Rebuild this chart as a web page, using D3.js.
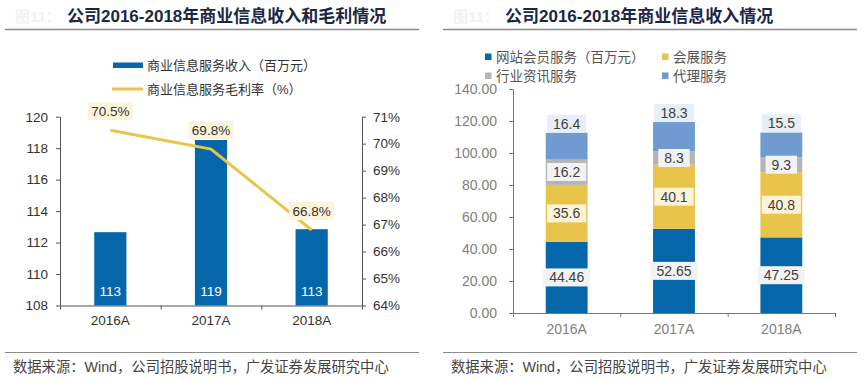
<!DOCTYPE html>
<html><head><meta charset="utf-8">
<script src="https://cdn.jsdelivr.net/npm/d3@7"></script>
<style>
body{margin:0;background:#fff;}
svg{display:block;font-family:"Liberation Sans",Arial,"Noto Sans CJK SC",sans-serif;}
.cjk{font-family:"Liberation Sans",Arial,"Noto Sans CJK SC",sans-serif;}
</style></head>
<body>
<script>
// ---- data ----
const years = ["2016A", "2017A", "2018A"];
const revenue = [112.66, 118.52, 112.85];          // 商业信息服务收入（百万元）
const margin = [70.5, 69.8, 66.8];                 // 商业信息服务毛利率（%）
const leftTicks = [108, 110, 112, 114, 116, 118, 120];
const rightTicks = [64, 65, 66, 67, 68, 69, 70, 71];

const website = [44.46, 52.65, 47.25];             // 网站会员服务
const exhibition = [35.6, 40.1, 40.8];             // 会展服务
const infoSvc = [16.2, 8.3, 9.3];                  // 行业资讯服务
const agency = [16.4, 18.3, 15.5];                 // 代理服务
const stackTicks = [0, 20, 40, 60, 80, 100, 120, 140];

const titleL = "公司2016-2018年商业信息收入和毛利情况";
const titleR = "公司2016-2018年商业信息收入情况";
const legendL = ["商业信息服务收入（百万元）", "商业信息服务毛利率（%）"];
const seriesNames = ["网站会员服务（百万元）", "会展服务", "行业资讯服务", "代理服务"];
const sourceText = "数据来源：Wind，公司招股说明书，广发证券发展研究中心";

const W = 864, H = 381;
const svg = d3.select("body").append("svg").attr("width", W).attr("height", H);

// ---- common frame ----
function frame(x0, x1, titleX, title) {
  svg.append("text").attr("x", titleX - 52).attr("y", 22).attr("fill", "#f1f1f1")
    .attr("font-size", 15).attr("font-weight", "bold").text("图11：");
  svg.append("text").attr("x", titleX).attr("y", 22).attr("fill", "#1b2744")
    .attr("font-size", 17).attr("font-weight", "bold").text(title);
  svg.append("line").attr("x1", x0).attr("x2", x1).attr("y1", 29.5).attr("y2", 29.5)
    .attr("stroke", "#8a8a8a").attr("stroke-width", 1.5);
  svg.append("line").attr("x1", x0).attr("x2", x1).attr("y1", 352.5).attr("y2", 352.5)
    .attr("stroke", "#8a8a8a").attr("stroke-width", 1.2);
  svg.append("text").attr("x", x0 + 8).attr("y", 372).attr("fill", "#444")
    .attr("font-size", 14.3).text(sourceText);
}
frame(5, 419, 67, titleL);
frame(443, 857, 505, titleR);

// ---- left chart ----
const blue = "#0567aa", yellow = "#e8c54a", gray = "#b5b5b5", lblue = "#6f9bd1";
const xL = d3.scaleBand().domain(years).range([60, 362]).paddingInner(0.68).paddingOuter(0.34);
const yL = d3.scaleLinear().domain([108, 120]).range([305.5, 116.7]);
const yR = d3.scaleLinear().domain([64, 71]).range([305.5, 116.7]);

// legend
const lg = svg.append("g");
lg.append("rect").attr("x", 113).attr("y", 62.5).attr("width", 30).attr("height", 5.5).attr("fill", blue);
lg.append("text").attr("x", 147).attr("y", 70).attr("font-size", 13).attr("fill", "#333").text(legendL[0]);
lg.append("line").attr("x1", 112).attr("x2", 143).attr("y1", 89).attr("y2", 89).attr("stroke", yellow).attr("stroke-width", 3);
lg.append("text").attr("x", 147).attr("y", 94).attr("font-size", 13).attr("fill", "#333").text(legendL[1]);

// bars
svg.append("g").selectAll("rect").data(years).join("rect")
  .attr("x", d => xL(d)).attr("width", xL.bandwidth())
  .attr("y", (d, i) => yL(revenue[i])).attr("height", (d, i) => yL(108) - yL(revenue[i]))
  .attr("fill", blue);
svg.append("g").selectAll("text").data(years).join("text")
  .attr("x", d => xL(d) + xL.bandwidth() / 2).attr("y", 296)
  .attr("text-anchor", "middle").attr("fill", "#fff").attr("font-size", 13.5)
  .text((d, i) => d3.format(".0f")(revenue[i]));

// axes
const axL = svg.append("g").attr("transform", "translate(60,0)")
  .call(d3.axisLeft(yL).tickValues(leftTicks).tickSize(4).tickSizeOuter(0).tickPadding(8));
const axR = svg.append("g").attr("transform", "translate(362,0)")
  .call(d3.axisRight(yR).tickValues(rightTicks).tickSize(4).tickSizeOuter(0).tickPadding(7).tickFormat(d => d + "%"));
const bx = d3.scaleLinear().domain([0, 3]).range([60, 362]);
const axB = svg.append("g").attr("transform", "translate(0,305.5)")
  .call(d3.axisBottom(bx).tickValues([0, 1, 2, 3]).tickSize(4).tickSizeOuter(0).tickFormat(""));
svg.append("g").attr("transform", "translate(0,305.5)")
  .call(d3.axisBottom(xL).tickSize(0).tickPadding(10)).call(g => g.select(".domain").remove())
  .selectAll("text").attr("font-size", 13.5).attr("fill", "#333");
[axL, axR, axB].forEach(g => {
  g.selectAll("path,line").attr("stroke", "#555");
  g.selectAll("text").attr("font-size", 13.5).attr("fill", "#333");
});

// line
const lineGen = d3.line().x((d, i) => xL(years[i]) + xL.bandwidth() / 2).y(d => yR(d));
svg.append("path").datum(margin).attr("d", lineGen).attr("fill", "none")
  .attr("stroke", yellow).attr("stroke-width", 3);
const ml = svg.append("g").selectAll("g").data(margin).join("g")
  .attr("transform", (d, i) => `translate(${xL(years[i]) + xL.bandwidth() / 2},${yR(d) - 19})`);
ml.append("rect").attr("x", -22.5).attr("y", -9).attr("width", 45).attr("height", 18).attr("fill", "#fbf3da");
ml.append("text").attr("y", 5).attr("text-anchor", "middle").attr("font-size", 13.5).attr("fill", "#333")
  .text(d => d.toFixed(1) + "%");

// ---- right chart ----
const xS = d3.scaleBand().domain(years).range([513, 835]).paddingInner(0.61).paddingOuter(0.305);
const yS = d3.scaleLinear().domain([0, 140]).range([313, 89]);
const keys = ["website", "exhibition", "infoSvc", "agency"];
const table = years.map((y, i) => ({year: y, website: website[i], exhibition: exhibition[i], infoSvc: infoSvc[i], agency: agency[i]}));
const stack = d3.stack().keys(keys)(table);
const colors = [blue, yellow, gray, lblue];
const labelBg = ["#f2f2f2", "#fcf3d8", "#f2f2f2", "#e6eef8"];

// legend
const rlg = svg.append("g");
const legPos = [[485, 57], [662, 57], [485, 76], [662, 76]];
seriesNames.forEach((n, i) => {
  rlg.append("rect").attr("x", legPos[i][0]).attr("y", legPos[i][1] - 3.5).attr("width", 6.5).attr("height", 6.5).attr("fill", colors[i]);
  rlg.append("text").attr("x", legPos[i][0] + 11).attr("y", legPos[i][1] + 5).attr("font-size", 13.5).attr("fill", "#555").text(n);
});

stack.forEach((s, k) => {
  svg.append("g").selectAll("rect").data(s).join("rect")
    .attr("x", d => xS(d.data.year)).attr("width", xS.bandwidth())
    .attr("y", d => yS(d[1])).attr("height", d => yS(d[0]) - yS(d[1]))
    .attr("fill", colors[k]);
});

// axes
const aSy = svg.append("g").attr("transform", "translate(513,0)")
  .call(d3.axisLeft(yS).tickValues(stackTicks).tickSize(4).tickSizeOuter(0).tickPadding(12).tickFormat(d3.format(".2f")));
const sbx = d3.scaleLinear().domain([0, 3]).range([513, 835]);
const aSb = svg.append("g").attr("transform", "translate(0,313)")
  .call(d3.axisBottom(sbx).tickValues([0, 1, 2, 3]).tickSize(4).tickSizeOuter(0).tickFormat(""));
svg.append("g").attr("transform", "translate(0,313)")
  .call(d3.axisBottom(xS).tickSize(0).tickPadding(11)).call(g => g.select(".domain").remove())
  .selectAll("text").attr("font-size", 14).attr("fill", "#7f7f7f");
[aSy, aSb].forEach(g => {
  g.selectAll("path,line").attr("stroke", "#777");
  g.selectAll("text").attr("font-size", 14).attr("fill", "#808080");
});

// stacked labels
stack.forEach((s, k) => {
  const g = svg.append("g").selectAll("g").data(s).join("g")
    .attr("transform", d => {
      const cx = xS(d.data.year) + xS.bandwidth() / 2;
      const cy = k === 3 ? yS(d[1]) - 9 : (yS(d[0]) + yS(d[1])) / 2;
      return `translate(${cx},${cy})`;
    });
  const txt = d => String(d.data[keys[k]]);
  g.append("rect").attr("x", d => -(txt(d).length * 7.8 + 8) / 2).attr("y", -9)
    .attr("width", d => txt(d).length * 7.8 + 8).attr("height", 18).attr("fill", labelBg[k]);
  g.append("text").attr("y", 5).attr("text-anchor", "middle").attr("font-size", 14).attr("fill", "#404040").text(txt);
});
</script>
</body></html>
